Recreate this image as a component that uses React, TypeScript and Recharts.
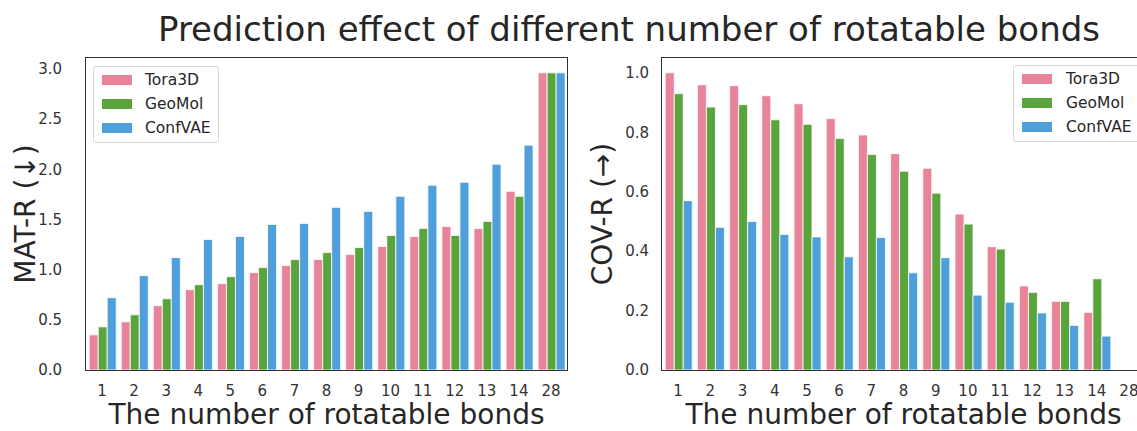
import React from 'react';
import { BarChart, Bar, XAxis, YAxis, Legend, Label } from 'recharts';

// rotatable bond counts
const bonds = ['1', '2', '3', '4', '5', '6', '7', '8', '9', '10', '11', '12', '13', '14', '28'];

// MAT-R (lower is better)
const matTora = [0.35, 0.48, 0.64, 0.8, 0.86, 0.97, 1.04, 1.1, 1.15, 1.23, 1.33, 1.43, 1.41, 1.78, 2.96];
const matGeo = [0.43, 0.55, 0.71, 0.85, 0.93, 1.02, 1.1, 1.17, 1.22, 1.34, 1.41, 1.34, 1.48, 1.73, 2.96];
const matConf = [0.72, 0.94, 1.12, 1.3, 1.33, 1.45, 1.46, 1.62, 1.58, 1.73, 1.84, 1.87, 2.05, 2.24, 2.96];

// COV-R (higher is better), no value for 28
const covTora = [1.0, 0.96, 0.957, 0.923, 0.896, 0.846, 0.791, 0.728, 0.679, 0.525, 0.415, 0.283, 0.231, 0.194, null];
const covGeo = [0.93, 0.885, 0.893, 0.842, 0.827, 0.779, 0.725, 0.669, 0.595, 0.491, 0.407, 0.261, 0.231, 0.307, null];
const covConf = [0.57, 0.48, 0.5, 0.456, 0.448, 0.381, 0.446, 0.327, 0.378, 0.252, 0.228, 0.192, 0.15, 0.114, null];

const models = ['Tora3D', 'GeoMol', 'ConfVAE'];
const matTicks = [0, 0.5, 1, 1.5, 2, 2.5, 3];
const covTicks = [0, 0.2, 0.4, 0.6, 0.8, 1];

const matData = bonds.map((n, i) => ({ n, tora: matTora[i], geo: matGeo[i], conf: matConf[i] }));
const covData = bonds.map((n, i) => ({ n, tora: covTora[i], geo: covGeo[i], conf: covConf[i] }));

const FONT = '"DejaVu Sans", sans-serif';
const INK = '#262626';
const FRAME = '#333';
const COLORS = ['#e8839a', '#59a43d', '#4f9fdb'];
const KEYS = ['tora', 'geo', 'conf'];

const W = 580;
const H = 431;
const TOP = 58;
const RIGHT = 13;
const XH = 61;

const tickStyle = { fontSize: 15, fill: '#333', fontFamily: FONT };

function LegendBox({ payload, gap }: any) {
  // keep the plotting order instead of alphabetical
  const items = [...(payload || [])].sort((a: any, b: any) => models.indexOf(a.value) - models.indexOf(b.value));
  return (
    <div
      style={{
        border: '1px solid #d8d8d8',
        borderRadius: 3,
        background: 'rgba(255,255,255,0.85)',
        padding: '1px 7px 2px 8px',
        fontFamily: FONT,
        fontSize: 15.5,
        color: INK,
      }}
    >
      {items.map((p: any) => (
        <div key={p.value} style={{ display: 'flex', alignItems: 'center', height: 24 }}>
          <span style={{ display: 'inline-block', width: 30, height: 10, background: p.color, marginRight: gap }} />
          {p.value}
        </div>
      ))}
    </div>
  );
}

function XTitle({ viewBox }: any) {
  const { x, y, width } = viewBox;
  return (
    <text x={x + width / 2} y={y + 54} textAnchor="middle" fontSize={28} fontFamily={FONT} fill={INK}>
      The number of rotatable bonds
    </text>
  );
}

function YTitle({ viewBox, value, at }: any) {
  const { y, height } = viewBox;
  const cy = y + height / 2;
  return (
    <text
      x={at}
      y={cy}
      transform={`rotate(-90, ${at}, ${cy})`}
      textAnchor="middle"
      fontSize={28}
      fontFamily={FONT}
      fill={INK}
    >
      {value}
    </text>
  );
}

function Panel({ data, domain, ticks, yLabel, labelX, yWidth, tickGap, legendPos, legendGap }: any) {
  return (
    <div style={{ position: 'relative', width: W, height: H }}>
      <BarChart
        width={W}
        height={H}
        data={data}
        margin={{ top: TOP, right: RIGHT, bottom: 0, left: 0 }}
        barCategoryGap="10%"
        barGap={0}
      >
        <XAxis
          dataKey="n"
          height={XH}
          tickLine={false}
          tickSize={0}
          tickMargin={15}
          tick={tickStyle}
          interval={0}
          axisLine={false}
        >
          <Label content={<XTitle />} />
        </XAxis>
        <YAxis
          width={yWidth}
          domain={domain}
          ticks={ticks}
          tickFormatter={(v: number) => v.toFixed(1)}
          tickLine={false}
          tickSize={0}
          tickMargin={tickGap}
          tick={tickStyle}
          axisLine={false}
          allowDataOverflow
        >
          <Label content={<YTitle value={yLabel} at={labelX} />} />
        </YAxis>
        <Legend
          layout="vertical"
          align="center"
          verticalAlign="middle"
          content={<LegendBox gap={legendGap} />}
          wrapperStyle={{ position: 'absolute', left: legendPos[0], top: legendPos[1], width: 'auto', height: 'auto' }}
        />
        {KEYS.map((k, i) => (
          <Bar
            key={k}
            dataKey={k}
            name={models[i]}
            fill={COLORS[i]}
            stroke="#fff"
            strokeWidth={0.8}
            isAnimationActive={false}
          />
        ))}
      </BarChart>
      {/* axes frame */}
      <div
        style={{
          position: 'absolute',
          left: yWidth - 0.75,
          top: TOP - 0.75,
          width: W - RIGHT - yWidth + 1.5,
          height: H - TOP - XH + 1.5,
          border: `1.5px solid ${FRAME}`,
          boxSizing: 'border-box',
          pointerEvents: 'none',
        }}
      />
    </div>
  );
}

export default function App() {
  return (
    <div
      style={{
        position: 'absolute',
        left: 0,
        top: 0,
        width: 1137,
        height: 431,
        overflow: 'hidden',
        background: '#fff',
      }}
    >
      <div
        style={{
          position: 'absolute',
          left: 629,
          top: 12,
          transform: 'translateX(-50%)',
          whiteSpace: 'nowrap',
          fontFamily: FONT,
          fontSize: 34,
          lineHeight: '34px',
          color: INK,
        }}
      >
        Prediction effect of different number of rotatable bonds
      </div>
      <div style={{ position: 'absolute', left: 0, top: 0 }}>
        <Panel
          data={matData}
          domain={[0, 3.108]}
          ticks={matTicks}
          yLabel="MAT-R (↓)"
          labelX={35}
          yWidth={86}
          tickGap={24}
          legendPos={[93, 66]}
          legendGap={13}
        />
      </div>
      <div style={{ position: 'absolute', left: 578, top: 0 }}>
        <Panel
          data={covData}
          domain={[0, 1.05]}
          ticks={covTicks}
          yLabel="COV-R (→)"
          labelX={34}
          yWidth={84}
          tickGap={13}
          legendPos={[435, 65]}
          legendGap={14}
        />
      </div>
    </div>
  );
}
